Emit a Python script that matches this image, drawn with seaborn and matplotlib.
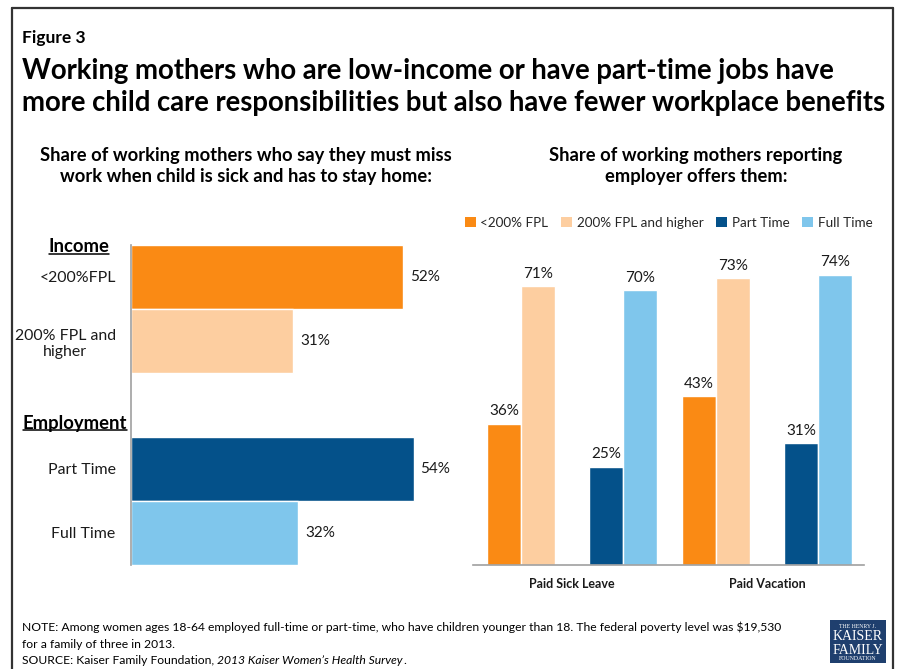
import matplotlib
matplotlib.use("Agg")
import matplotlib.pyplot as plt
from matplotlib.patches import Patch, Rectangle
from matplotlib.lines import Line2D
import seaborn as sns
import pandas as pd

sns.set_theme(style="white")
plt.rcParams['font.family'] = ['Lato', 'DejaVu Sans']

# ---------------- data ----------------
left_categories = ["<200%FPL", "200% FPL and\nhigher", "Part Time", "Full Time"]
left_values = [52, 31, 54, 32]
left_order = ["<200%FPL", "200% FPL and\nhigher", " ", "Part Time", "Full Time"]

benefits = ["Paid Sick Leave", "Paid Vacation"]
series_names = ["<200% FPL", "200% FPL and higher", "Part Time", "Full Time"]
sick_values = [36, 71, 25, 70]
vacation_values = [43, 73, 31, 74]

colors = ["#FA8A14", "#FDCEA0", "#04518A", "#7FC6EC"]

W, H = 898, 669
fig = plt.figure(figsize=(W / 100, H / 100), dpi=100)

def fx(px):
    return px / W

def fy(py):
    return 1 - py / H

# ---------------- left chart ----------------
axL = fig.add_axes([fx(131), fy(565), fx(445) - fx(131), fy(245) - fy(565)])
dfL = pd.DataFrame({"cat": left_categories, "val": left_values})
palL = dict(zip(left_categories, colors))
sns.barplot(data=dfL, x="val", y="cat", hue="cat", order=left_order,
            palette=palL, width=1.0, legend=False, ax=axL, saturation=1)
axL.set_xlim(0, 60)
axL.set_ylim(4.5, -0.5)
axL.set_xlabel("")
axL.set_ylabel("")
axL.set_xticks([])
for s in ["top", "right", "bottom"]:
    axL.spines[s].set_visible(False)
axL.spines["left"].set_color("#A0A0A0")
axL.spines["left"].set_linewidth(1.2)
axL.tick_params(axis="y", length=0, pad=11, labelsize=11.4)
for lab in axL.get_yticklabels():
    lab.set_multialignment("center")
    lab.set_color("#1a1a1a")
for cont in axL.containers:
    axL.bar_label(cont, fmt="%d%%", padding=5, fontsize=11, color="#1a1a1a")

# ---------------- right chart ----------------
axR = fig.add_axes([fx(473), fy(565), fx(864) - fx(473), fy(251) - fy(565)])
rows = []
for b, vals in zip(benefits, [sick_values, vacation_values]):
    for s, v in zip(series_names, vals):
        rows.append({"benefit": b, "series": s, "val": v})
dfR = pd.DataFrame(rows)
hue_order = ["<200% FPL", "200% FPL and higher", "  ", "Part Time", "Full Time"]
palR = dict(zip(series_names, colors))
palR["  "] = "#FFFFFF"
sns.barplot(data=dfR, x="benefit", y="val", hue="series", hue_order=hue_order,
            palette=palR, width=0.872, dodge=True, legend=False, ax=axR,
            saturation=1)
axR.set_xlim(-0.508, 1.497)
axR.set_ylim(0, 80)
axR.set_xlabel("")
axR.set_ylabel("")
axR.set_yticks([])
for s in ["top", "right", "left"]:
    axR.spines[s].set_visible(False)
axR.spines["bottom"].set_color("#A0A0A0")
axR.spines["bottom"].set_linewidth(1.2)
axR.tick_params(axis="x", length=0, pad=9, labelsize=9)
for lab in axR.get_xticklabels():
    lab.set_fontweight("bold")
    lab.set_color("#1a1a1a")
for cont in axR.containers:
    if len(cont) and not all(pd.isna(p.get_height()) for p in cont):
        axR.bar_label(cont, fmt="%d%%", padding=4, fontsize=11, color="#1a1a1a")

handles = [Patch(facecolor=c, edgecolor="none") for c in colors]
fig.legend(handles, series_names, loc="center left",
           bbox_to_anchor=(fx(465), fy(223)), ncol=4, frameon=False,
           fontsize=9.7, handlelength=0.8, handleheight=0.8,
           handletextpad=0.35, columnspacing=0.95, borderaxespad=0,
           borderpad=0)

# ---------------- texts ----------------
fig.text(fx(22), fy(38), "Figure 3", fontsize=12.5, fontweight="bold",
         va="center", ha="left", color="#000000")
fig.text(fx(22), fy(79), "Working mothers who are low-income or have part-time jobs have",
         fontsize=19.8, fontweight="bold", va="baseline", ha="left", color="#000000")
fig.text(fx(22), fy(111), "more child care responsibilities but also have fewer workplace benefits",
         fontsize=19.8, fontweight="bold", va="baseline", ha="left", color="#000000")

fig.text(fx(246), fy(166), "Share of working mothers who say they must miss\nwork when child is sick and has to stay home:",
         fontsize=13.2, fontweight="bold", ha="center", va="center",
         linespacing=1.3, color="#000000")
fig.text(fx(696), fy(166), "Share of working mothers reporting\nemployer offers them:",
         fontsize=13.2, fontweight="bold", ha="center", va="center",
         linespacing=1.3, color="#000000")

# group headers with underline
fig.canvas.draw()
renderer = fig.canvas.get_renderer()
for label, cx, cy in [("Income", 79, 247), ("Employment", 75, 423)]:
    t = fig.text(fx(cx), fy(cy), label, fontsize=13.3, fontweight="bold",
                 ha="center", va="center", color="#000000")
    bb = t.get_window_extent(renderer=renderer)
    x0, x1 = bb.x0 / W, bb.x1 / W
    yline = (bb.y0 + 2) / H
    fig.add_artist(Line2D([x0, x1], [yline, yline], transform=fig.transFigure,
                          color="#000000", lw=1.1))

# footnotes
fn = 8.75
fig.text(fx(22), fy(627), "NOTE: Among women ages 18-64 employed full-time or part-time, who have children younger than 18. The federal poverty level was $19,530",
         fontsize=fn, ha="left", va="center", color="#000000")
fig.text(fx(22), fy(644), "for a family of three in 2013.",
         fontsize=fn, ha="left", va="center", color="#000000")
t1 = fig.text(fx(22), fy(661), "SOURCE: Kaiser Family Foundation, ",
              fontsize=fn, ha="left", va="center", color="#000000")
fig.canvas.draw()
bb = t1.get_window_extent(renderer=fig.canvas.get_renderer())
t2 = fig.text(bb.x1 / W, fy(661), "2013 Kaiser Women\u2019s Health Survey",
              fontsize=fn, style="italic", ha="left", va="center", color="#000000")
fig.canvas.draw()
bb2 = t2.get_window_extent(renderer=fig.canvas.get_renderer())
fig.text((bb2.x1 + 0.5) / W, fy(661), ".", fontsize=fn, ha="left", va="center", color="#000000")

# logo
fig.add_artist(Rectangle((fx(830), fy(663)), fx(886) - fx(830), fy(620) - fy(663),
                         transform=fig.transFigure, facecolor="#1F3F6E", edgecolor="none"))
serif = ["Liberation Serif", "DejaVu Serif"]
fig.text(fx(858), fy(626), "THE HENRY J.", family=serif, fontsize=4.2, color="white",
         ha="center", va="center")
fig.text(fx(858), fy(637), "KAISER", family=serif, fontsize=10, color="white",
         ha="center", va="center")
fig.text(fx(858), fy(650), "FAMILY", family=serif, fontsize=10, color="white",
         ha="center", va="center")
fig.text(fx(858), fy(659), "FOUNDATION", family=serif, fontsize=4.2, color="white",
         ha="center", va="center")

# border
bc = "#333333"
for xs, ys in [([12, 12], [8, 675]), ([12, 893], [8, 8]), ([893, 893], [8, 675])]:
    fig.add_artist(Line2D([fx(x) for x in xs], [fy(y) for y in ys],
                          transform=fig.transFigure, color=bc, lw=1.6))

fig.savefig("out.png", dpi=100)
